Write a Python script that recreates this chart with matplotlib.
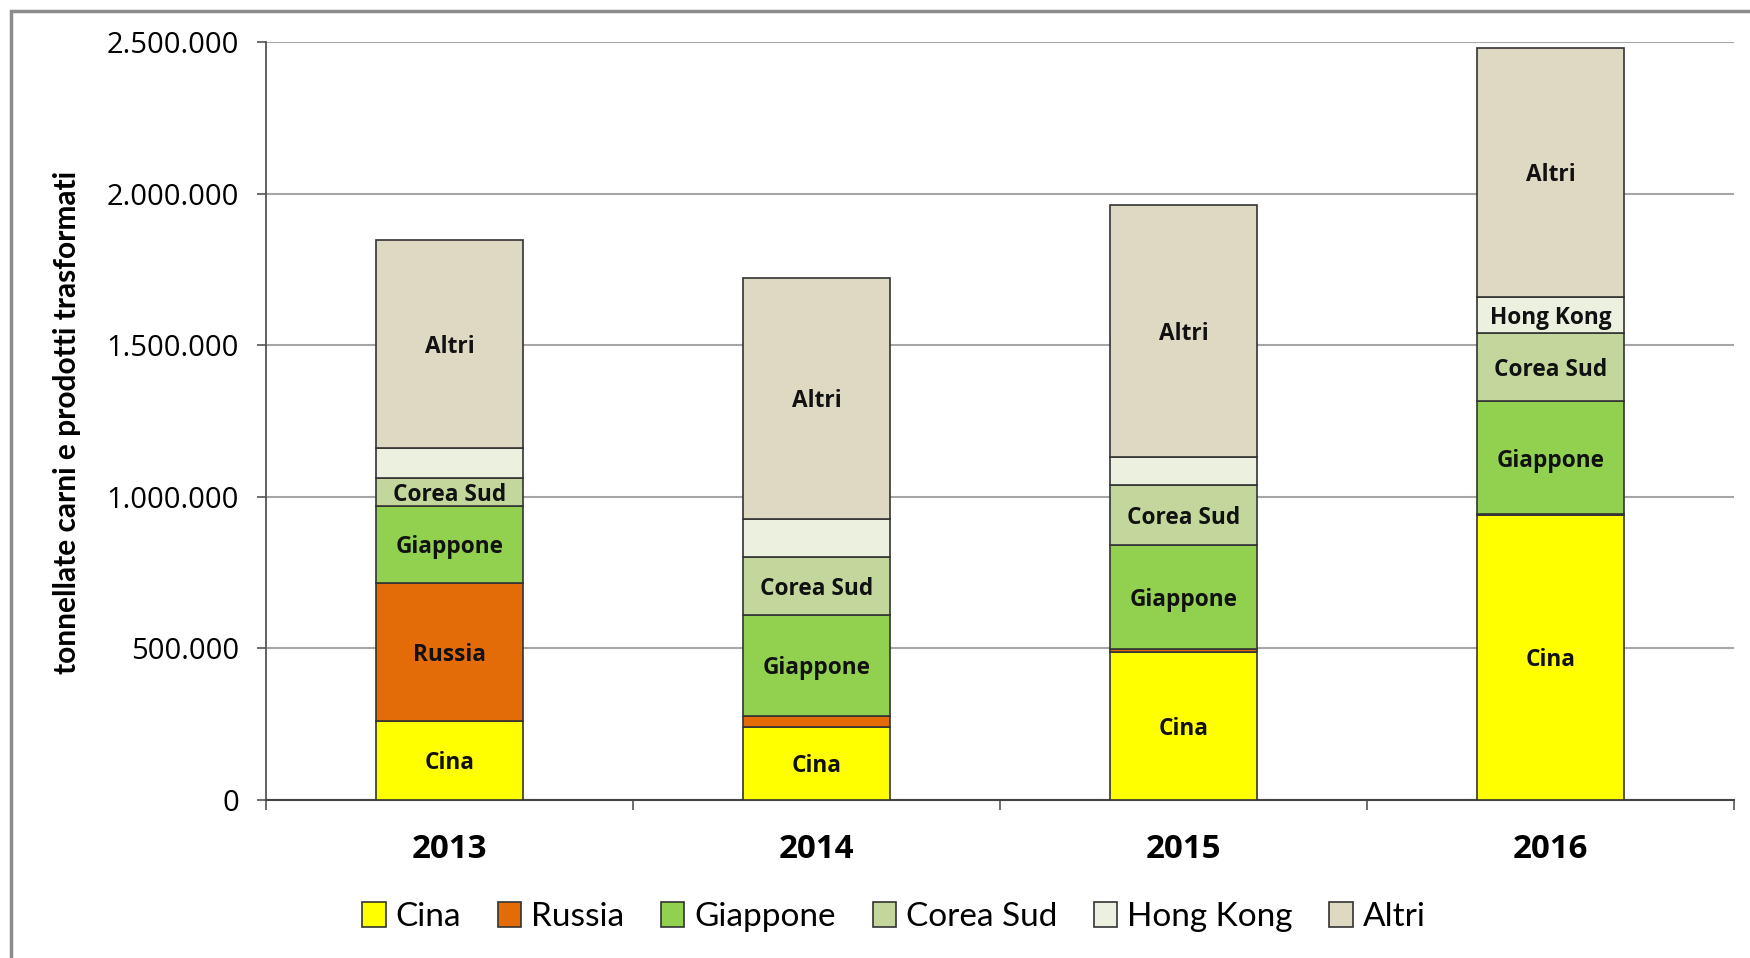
import numpy as np
import matplotlib
matplotlib.use("Agg")
import matplotlib.pyplot as plt
from matplotlib.patches import Rectangle
from matplotlib.ticker import FuncFormatter, FixedLocator

# dati (tonnellate)
years = ["2013", "2014", "2015", "2016"]
series = ["Cina", "Russia", "Giappone", "Corea Sud", "Hong Kong", "Altri"]
cina = [261000, 241000, 488000, 938000]
russia = [454000, 36000, 8000, 3000]
giappone = [254000, 332000, 345000, 375000]
corea_sud = [92000, 190000, 198000, 223000]
hong_kong = [98000, 127000, 91000, 120000]
altri = [686000, 796000, 833000, 822000]

# quali segmenti hanno l'etichetta dentro la barra
lab_cina = [True, True, True, True]
lab_russia = [True, False, False, False]
lab_giappone = [True, True, True, True]
lab_corea = [True, True, True, True]
lab_hk = [False, False, False, True]
lab_altri = [True, True, True, True]

colors = ["#FFFF00", "#E36C09", "#92D050", "#C3D69B", "#EBF1DE", "#DDD9C3"]

values = [cina, russia, giappone, corea_sud, hong_kong, altri]
labels_on = [lab_cina, lab_russia, lab_giappone, lab_corea, lab_hk, lab_altri]

W, H = 1750, 958
fig = plt.figure(figsize=(W / 100, H / 100), dpi=100)
ax = fig.add_axes([266 / W, 1 - 799.6 / H, (1734 - 266) / W, (799.6 - 42) / H])

x = np.arange(len(years))
bottom = np.zeros(len(years))
for name, vals, col, lab in zip(series, values, colors, labels_on):
    vals = np.array(vals, dtype=float)
    ax.bar(x, vals, width=0.40, bottom=bottom, color=col, edgecolor="#333333",
           linewidth=1.2, label=name, zorder=3)
    for i in range(len(years)):
        if lab[i]:
            ax.text(x[i], bottom[i] + vals[i] / 2, name, ha="center", va="center_baseline",
                    fontsize=16.3, fontweight="bold", family="Open Sans",
                    color="#111111", zorder=4)
    bottom += vals

ax.set_xlim(-0.5, len(years) - 0.5)
ax.set_ylim(0, 2500000)
ax.yaxis.set_major_locator(FixedLocator(np.arange(0, 2500001, 500000)))
ax.yaxis.set_major_formatter(FuncFormatter(lambda v, p: f"{int(v):,}".replace(",", ".")))
ax.yaxis.grid(True, color="#A6A6A6", linewidth=1.5, zorder=0)
ax.set_axisbelow(True)

ax.set_xticks(x)
ax.set_xticklabels(years, fontsize=23.8, fontweight="bold", family="Open Sans")
ax.set_xticks(np.arange(-0.5, len(years)), minor=True)
ax.tick_params(axis="x", which="major", length=0, pad=24)
ax.tick_params(axis="x", which="minor", length=7, width=1.2, color="#555555", direction="out")
ax.tick_params(axis="y", length=6.5, width=1.2, color="#555555", pad=13, labelsize=21)
for t in ax.get_yticklabels():
    t.set_family("Open Sans")

for s in ["top", "right"]:
    ax.spines[s].set_visible(False)
ax.spines["left"].set_color("#555555")
ax.spines["left"].set_linewidth(1.3)
ax.spines["bottom"].set_color("#444444")
ax.spines["bottom"].set_linewidth(1.5)

fig.text(67 / W, 1 - 422 / H, "tonnellate carni e prodotti trasformati", rotation=90,
         ha="center", va="center", fontsize=21.5, fontweight="bold", family="Lato")

leg = fig.legend(loc="center", bbox_to_anchor=(894 / W, 1 - 917 / H), ncol=6,
                 frameon=False, prop={"family": "Lato", "size": 24},
                 handlelength=0.7, handleheight=0.8, handletextpad=0.3,
                 columnspacing=1.1)

# bordo grigio dell'area grafico
fig.patches.append(Rectangle((11 / W, -0.05), 1.2, 1 - 11 / H + 0.05, transform=fig.transFigure,
                             fill=False, edgecolor="#8C8C8C", linewidth=2.5))

fig.savefig("out.png", dpi=100)
